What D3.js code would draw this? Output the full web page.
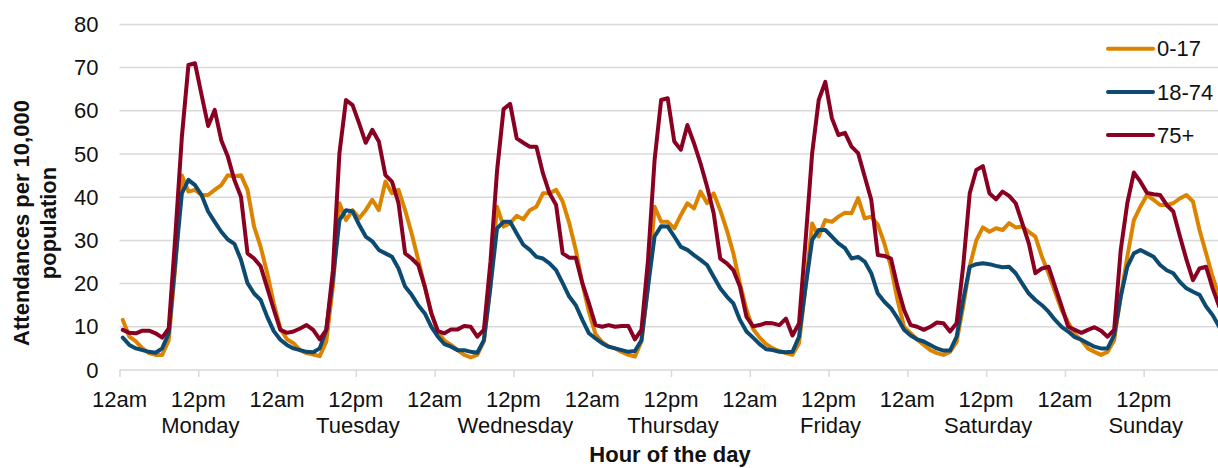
<!DOCTYPE html>
<html>
<head>
<meta charset="utf-8">
<script src="https://cdn.jsdelivr.net/npm/d3@7"></script>
<style>
  html, body { margin: 0; padding: 0; background: #ffffff; }
  svg { display: block; font-family: "Liberation Sans", Arial, sans-serif; }
</style>
</head>
<body>
<svg id="chart" width="1218" height="468"></svg>
<script>
// Hourly A&E attendances per 10,000 population, Monday 12am to Sunday 11pm
const dayNames = ["Monday", "Tuesday", "Wednesday", "Thursday", "Friday", "Saturday", "Sunday"];
const hourTickLabels = ["12am", "12pm"];
const yTickValues = [0, 10, 20, 30, 40, 50, 60, 70, 80];
const seriesNames = ["0-17", "18-74", "75+"];

const age0to17 = [
  // Monday
  11.6, 7.7, 6.6, 5.0, 3.9, 3.5, 3.5, 6.9, 24, 45, 41.3, 41.7, 40.5, 40.5, 41.7, 42.8, 45.1, 44.8, 45.1, 41.7, 33.2, 28.5, 22.4, 15.4,
  // Tuesday
  9.6, 7.1, 6.2, 4.6, 3.9, 3.6, 3.2, 6.6, 19.3, 38.6, 34.7, 37, 35.1, 37, 39.4, 37, 43.6, 40.9, 41.7, 37, 31.6, 25.5, 19.3, 13.1,
  // Wednesday
  8.7, 6.8, 5.8, 4.6, 3.5, 2.9, 3.5, 6.6, 19.3, 37.8, 33.2, 34, 35.7, 34.9, 37, 37.8, 40.9, 40.9, 41.7, 39, 34, 27.8, 20, 13.5,
  // Thursday
  8.3, 6.5, 5.4, 5.0, 4.2, 3.5, 3.1, 6.6, 19.3, 37.8, 34.3, 34.3, 32.8, 35.9, 38.6, 37.4, 41.3, 38.6, 40.9, 37, 32.4, 27, 20, 13.9,
  // Friday
  9.5, 7.5, 6.0, 5.0, 4.4, 3.9, 3.5, 6.2, 19.3, 33.9, 30.9, 34.7, 34.3, 35.5, 36.4, 36.3, 39.8, 35.1, 35.5, 33.6, 29.3, 23.9, 16.2, 10,
  // Saturday
  8.5, 7.0, 5.8, 4.6, 3.9, 3.5, 4.2, 6.5, 14.7, 24, 30, 33, 32, 32.8, 32.4, 34, 33, 33.2, 32, 30.9, 26.2, 22.4, 18.1, 13.9,
  // Sunday
  11.0, 8.3, 6.9, 5.0, 4.2, 3.5, 4.2, 6.9, 17, 26.2, 34.7, 37.8, 40.5, 39.4, 38.2, 38.2, 38.6, 39.7, 40.5, 39, 32.4, 27, 21.6, 17
];

const age18to74 = [
  // Monday
  7.5, 5.8, 5.0, 4.6, 4.2, 4.0, 5.0, 8.5, 25, 40.9, 44, 42.8, 40.5, 36.7, 34.3, 32, 30.2, 29.2, 25.5, 20.1, 17.7, 16.2, 12.3, 9,
  // Tuesday
  7.0, 5.8, 5.0, 4.6, 4.2, 4.1, 5.0, 9.3, 21, 34.7, 37, 36.7, 33.6, 30.9, 29.8, 27.8, 27, 26.2, 23.5, 19.3, 17.4, 15, 13.1, 10,
  // Wednesday
  7.7, 6.0, 5.4, 4.6, 4.6, 4.2, 4.0, 6.9, 19.3, 32.8, 34.3, 34.3, 31.6, 29, 27.8, 26.2, 25.8, 24.7, 23.1, 20.1, 17, 15, 11.6, 8.5,
  // Thursday
  7.3, 6.2, 5.4, 5.0, 4.6, 4.2, 4.4, 6.9, 19.3, 30.9, 33.3, 33.2, 30.9, 28.5, 27.8, 26.6, 25.5, 24.3, 21.6, 18.9, 17, 15.4, 11.6, 8.9,
  // Friday
  7.5, 6.0, 4.8, 4.6, 4.2, 4.1, 4.2, 7.7, 19.3, 30.1, 32.4, 32.4, 30.9, 29.3, 28.2, 25.8, 26.2, 25.1, 22.4, 17.7, 15.8, 14.3, 12, 9.3,
  // Saturday
  8.0, 7.1, 6.6, 5.8, 5.0, 4.5, 4.5, 7.7, 16.2, 23.9, 24.5, 24.7, 24.5, 24.1, 23.8, 23.9, 22.4, 20, 17.7, 16.2, 15, 13.5, 11.6, 10,
  // Sunday
  8.9, 7.6, 7.0, 6.2, 5.4, 5.0, 5.0, 8.1, 17, 23.9, 27, 27.8, 27, 26.2, 24.3, 23.1, 22.4, 20.4, 18.9, 18.1, 17.4, 14.7, 12.7, 10
];

const age75plus = [
  // Monday
  9.3, 8.6, 8.5, 9.1, 9.1, 8.5, 7.5, 9.6, 31, 54, 70.6, 71, 63.7, 56.5, 60.2, 53.2, 49.4, 44, 40.1, 27, 25.8, 24, 19, 14,
  // Tuesday
  9.3, 8.6, 8.9, 9.6, 10.4, 9.3, 7.1, 9.3, 23, 50.2, 62.5, 61.3, 57.1, 52.6, 55.6, 52.9, 45.1, 43.6, 38.6, 27, 25.8, 24.3, 19.3, 13.1,
  // Wednesday
  9.0, 8.5, 9.4, 9.4, 10.2, 10, 7.7, 9.3, 25, 46, 60.4, 61.6, 53.6, 52.6, 51.7, 51.7, 45.5, 40.9, 38.2, 27, 26, 26, 20.1, 15.4,
  // Thursday
  10.4, 10, 10.4, 10, 10.2, 10.2, 7.1, 9.3, 25.5, 48.6, 62.5, 62.9, 52.9, 51, 56.7, 52.5, 47.8, 42.4, 36.3, 25.8, 24.7, 23.1, 19.3, 12.3,
  // Friday
  10.1, 10.4, 10.9, 10.8, 10.4, 11.9, 8.0, 10.8, 30, 50.2, 62.5, 66.7, 58.3, 54.4, 54.9, 51.7, 50.2, 44.8, 39.4, 26.6, 26.4, 25.8, 19.3, 13.9,
  // Saturday
  10.4, 10.0, 9.3, 10.0, 11.0, 10.8, 8.9, 10.8, 24, 40.9, 46.3, 47.2, 40.9, 39.5, 41.3, 40.3, 38.6, 34, 29.3, 22.4, 23.5, 23.9, 19.3, 14.7,
  // Sunday
  10, 9.3, 8.6, 9.3, 9.9, 9.1, 7.7, 9.3, 27.8, 38.6, 45.7, 43.6, 41, 40.7, 40.5, 38.2, 36.7, 31, 25.6, 20.8, 23.5, 23.9, 18.9, 14.7
];

const seriesColors = ["#DC8400", "#0C4A72", "#8A0022"];
const seriesValues = [age0to17, age18to74, age75plus];

const svg = d3.select("#chart");
const W = 1218, H = 468;
const plotLeft = 119.5, plotRight = 1222.5, plotTop = 24.4, plotBottom = 370;
const nHours = dayNames.length * 24;

svg.append("rect").attr("width", W).attr("height", H).attr("fill", "#ffffff");

const x = d3.scaleLinear().domain([0, nHours]).range([plotLeft, plotRight]);
const y = d3.scaleLinear().domain([0, 80]).range([plotBottom, plotTop]);

// horizontal gridlines
svg.append("g")
  .selectAll("line")
  .data(yTickValues.filter(v => v > 0))
  .join("line")
  .attr("x1", plotLeft).attr("x2", W)
  .attr("y1", d => y(d)).attr("y2", d => y(d))
  .attr("stroke", "#d9d9d9").attr("stroke-width", 1.5);

// y axis labels
const yAxis = d3.axisLeft(y).tickValues(yTickValues).tickSize(0).tickPadding(0);
const gy = svg.append("g").attr("transform", `translate(${plotLeft - 21},0)`).call(yAxis);
gy.select(".domain").remove();
gy.selectAll("text")
  .attr("font-size", 22).attr("fill", "#111").attr("font-family", "Liberation Sans, Arial, sans-serif");

// x axis: ticks every 12 hours
const xTickValues = d3.range(0, nHours + 1, 12);
const xAxis = d3.axisBottom(x)
  .tickValues(xTickValues)
  .tickSize(7)
  .tickSizeOuter(0)
  .tickFormat(() => "");
const gx = svg.append("g").attr("transform", `translate(0,${plotBottom})`).call(xAxis);
gx.select(".domain").attr("stroke", "#d9d9d9").attr("stroke-width", 1.5)
  .attr("d", `M${plotLeft},0H${W}`);
gx.selectAll(".tick line").attr("stroke", "#d9d9d9").attr("stroke-width", 1.5);

// hour labels (12am / 12pm)
svg.append("g")
  .selectAll("text")
  .data(xTickValues.filter(v => v < nHours))
  .join("text")
  .attr("x", d => x(d))
  .attr("y", 406.5)
  .attr("text-anchor", "middle")
  .attr("font-size", 22)
  .attr("fill", "#111")
  .text(d => hourTickLabels[(d / 12) % 2]);

// day labels under each midday tick
svg.append("g")
  .selectAll("text")
  .data(dayNames)
  .join("text")
  .attr("x", (d, i) => x(i * 24 + 12) + 2)
  .attr("y", 432.5)
  .attr("text-anchor", "middle")
  .attr("font-size", 22)
  .attr("fill", "#111")
  .text(d => d);

// axis titles
svg.append("text")
  .attr("x", 670).attr("y", 462)
  .attr("text-anchor", "middle")
  .attr("font-size", 22).attr("font-weight", "bold").attr("fill", "#111")
  .text("Hour of the day");

const yTitle = ["Attendances per 10,000", "population"];
svg.append("g")
  .selectAll("text")
  .data(yTitle)
  .join("text")
  .attr("transform", (d, i) => `translate(${29 + i * 26.5},223) rotate(-90)`)
  .attr("text-anchor", "middle")
  .attr("font-size", 22).attr("font-weight", "bold").attr("fill", "#111")
  .text(d => d);

// series lines
const line = d3.line()
  .x((d, i) => x(i + 0.5))
  .y(d => y(d));

svg.append("g")
  .selectAll("path")
  .data(seriesValues)
  .join("path")
  .attr("d", d => line(d))
  .attr("fill", "none")
  .attr("stroke", (d, i) => seriesColors[i])
  .attr("stroke-width", 4)
  .attr("stroke-linejoin", "round")
  .attr("stroke-linecap", "round");

// legend
const legend = svg.append("g")
  .selectAll("g")
  .data(seriesNames)
  .join("g")
  .attr("transform", (d, i) => `translate(1108,${48.7 + i * 43.2})`);
legend.append("line")
  .attr("x1", 0).attr("x2", 45)
  .attr("stroke", (d, i) => seriesColors[i])
  .attr("stroke-width", 4)
  .attr("stroke-linecap", "round");
legend.append("text")
  .attr("x", 49).attr("y", 0).attr("dy", "0.35em")
  .attr("font-size", 22).attr("fill", "#111")
  .text(d => d);
</script>
</body>
</html>
